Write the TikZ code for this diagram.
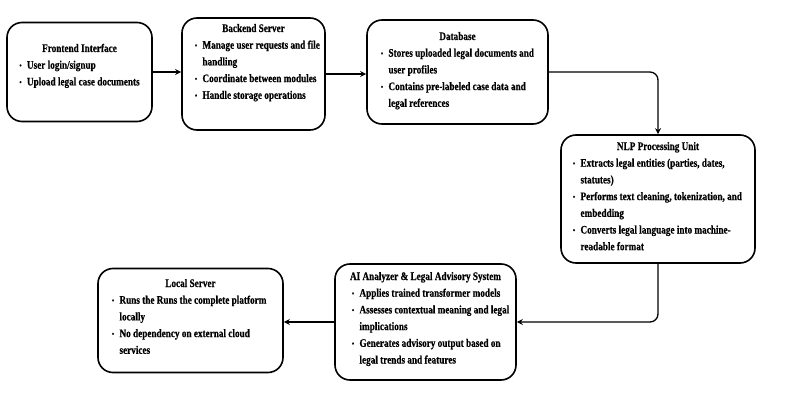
\documentclass[tikz,border=0pt]{standalone}
\usepackage{fontspec}
\newfontfamily\dfont{Liberation Serif}[FakeStretch=0.8, FakeBold=0.5]
\usetikzlibrary{arrows.meta}
\hfuzz=\maxdimen
\hbadness=10000
\newcommand\dbul{\makebox[7.5pt][l]{\raisebox{0.8pt}{\fontsize{7.5}{7.5}\selectfont •}}}
\newcommand\bl[1]{\par\noindent\mbox{\dbul#1}}
\newcommand\cl[1]{\par\noindent\mbox{\hspace*{7.5pt}#1}}
\newcommand\dcontent[3]{\begin{minipage}[t]{#1}\dfont\bfseries\fontsize{11.5}{16.7}\selectfont\parskip=0pt
\noindent\makebox[\linewidth][c]{#2}#3\end{minipage}}
\tikzset{
  dbox/.style={draw=black, line width=1.6pt, rounded corners=15pt, fill=white, inner sep=0pt},
  dtext/.style={anchor=base, inner sep=0pt, text=black},
  dconn/.style={draw=black, line width=1.3pt, rounded corners=8pt, -{Stealth[length=6pt,width=6pt]}}
}
\begin{document}
\begin{tikzpicture}[x=1pt,y=-1pt]
\useasboundingbox[fill=white] (0,0) rectangle (804,404);
% boxes
\node[dbox, minimum width=145pt, minimum height=99pt] (fe) at (79.5,72) {};
\node[dbox, minimum width=143pt, minimum height=112pt] (be) at (253.5,74) {};
\node[dbox, minimum width=181pt, minimum height=104pt] (db) at (457.5,72) {};
\node[dbox, minimum width=194pt, minimum height=128pt] (nlp) at (658,199) {};
\node[dbox, minimum width=181pt, minimum height=116pt] (ai) at (425.5,322) {};
\node[dbox, minimum width=185pt, minimum height=104pt] (loc) at (190.5,320.5) {};
% texts
\node[dtext] (fe-t) at (79.5,52) {\dcontent{120pt}{Frontend Interface}{%
\bl{User login/signup}\bl{Upload legal case documents}}};
\node[dtext] (be-t) at (253.5,32) {\dcontent{117pt}{Backend Server}{%
\bl{Manage user requests and file}\cl{handling}\bl{Coordinate between modules}\bl{Handle storage operations}}};
\node[dtext] (db-t) at (457.5,40) {\dcontent{153pt}{Database}{%
\bl{Stores uploaded legal documents and}\cl{user profiles}\bl{Contains pre-labeled case data and}\cl{legal references}}};
\node[dtext] (nlp-t) at (658,150) {\dcontent{170pt}{NLP Processing Unit}{%
\bl{Extracts legal entities (parties, dates,}\cl{statutes)}\bl{Performs text cleaning, tokenization, and}\cl{embedding}\bl{Converts legal language into machine-}\cl{readable format}}};
\node[dtext] (ai-t) at (425.5,280) {\dcontent{147pt}{AI Analyzer \& Legal Advisory System}{%
\bl{Applies trained transformer models}\bl{Assesses contextual meaning and legal}\cl{implications}\bl{Generates advisory output based on}\cl{legal trends and features}}};
\node[dtext] (loc-t) at (190.5,287) {\dcontent{157pt}{Local Server}{%
\bl{Runs the Runs the complete platform}\cl{locally}\bl{No dependency on external cloud}\cl{services}}};
% connectors
\draw[dconn] (fe.east) -- (be.west |- fe.east);
\draw[dconn] (be.east) -- (db.west |- be.east);
\draw[dconn] (db.east) -| (nlp.north);
\draw[dconn] (nlp.south) |- (ai.east);
\draw[dconn] (ai.west) -- (loc.east |- ai.west);
\end{tikzpicture}
\end{document}
